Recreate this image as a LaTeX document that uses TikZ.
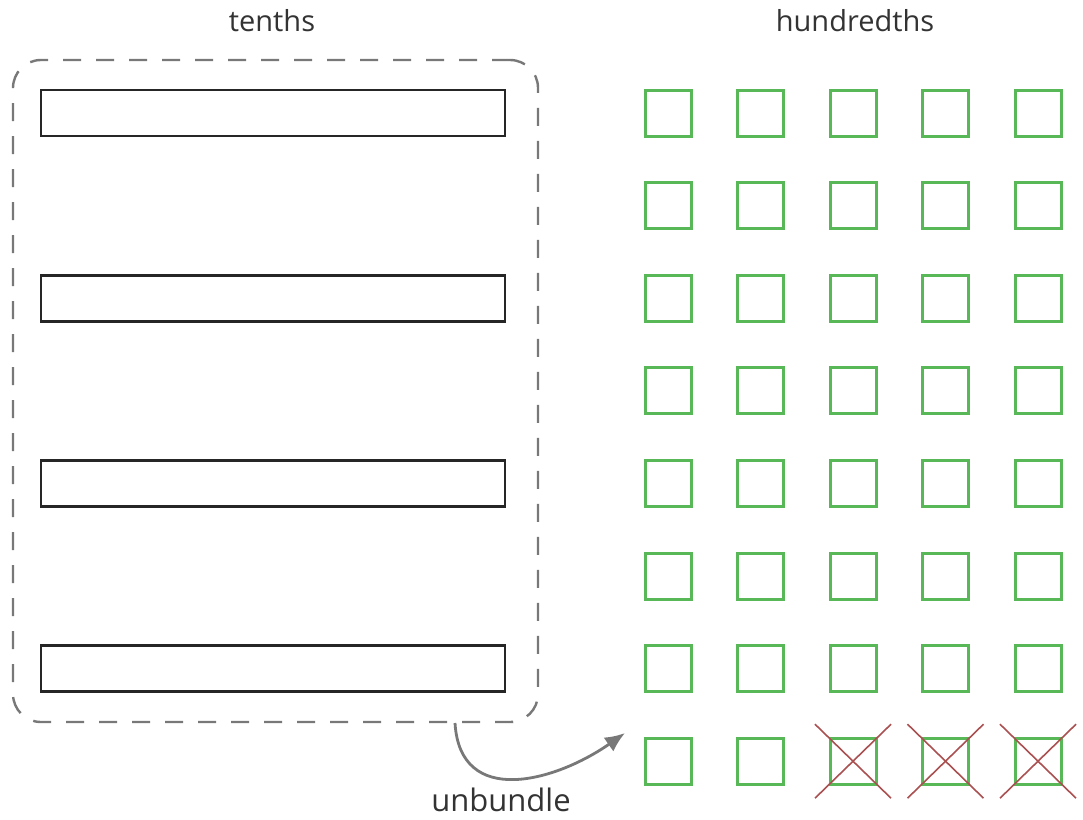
\documentclass[tikz,border=0pt]{standalone}
\usepackage{fontspec}
\setmainfont{Open Sans}
\usetikzlibrary{arrows.meta}
\definecolor{boxgray}{RGB}{120,120,120}
\definecolor{unitgreen}{RGB}{88,184,88}
\definecolor{crossred}{RGB}{170,80,80}
\tikzset{
  tenthbar/.style={draw=black!85, line width=2.8pt, minimum width=464pt, minimum height=46pt, inner sep=0pt},
  unitsq/.style={draw=unitgreen, line width=3pt, minimum width=46pt, minimum height=46pt, inner sep=0pt},
  bundle/.style={draw=boxgray, line width=2.4pt, dash pattern=on 18pt off 15pt, rounded corners=28pt,
    minimum width=525pt, minimum height=662pt, inner sep=0pt},
  strike/.style={draw=crossred, line width=1.6pt},
  flow/.style={draw=boxgray, line width=2.8pt, -{Latex[length=20pt,width=17pt]}},
  title/.style={font=\fontsize{29}{34}\selectfont, text=black!80, inner sep=0pt}
}
\begin{document}
\begin{tikzpicture}[x=1pt, y=-1pt]
\useasboundingbox (0,0) rectangle (1083,819);
% headings
\node[title] (tenths) at (272,21) {tenths};
\node[title] (hundredths) at (855,21) {hundredths};
% the bundle of tenths
\node[bundle] (bundle) at (275.5,391) {};
\foreach \k in {0,...,3} {
  \node[tenthbar] (bar\k) at (273,{113+185.2*\k}) {};
}
% the grid of hundredths
\foreach \r in {0,...,7} {
  \foreach \c in {0,...,4} {
    \node[unitsq] (sq\r\c) at ({668+92.5*\c},{113+92.6*\r}) {};
  }
}
% three hundredths struck out
\foreach \c in {2,3,4} {
  \draw[strike] (sq7\c.center) ++(-38,-37) -- ++(76,74);
  \draw[strike] (sq7\c.center) ++(38,-37) -- ++(-76,74);
}
% unbundling arrow
\coordinate (from) at (455,723);
\coordinate (to) at (625,733);
\draw[flow] (from) .. controls (460,808) and (555,782) .. (to);
\node[title, font=\fontsize{31}{36}\selectfont] (unbundle) at (501,800) {unbundle};
\end{tikzpicture}
\end{document}
